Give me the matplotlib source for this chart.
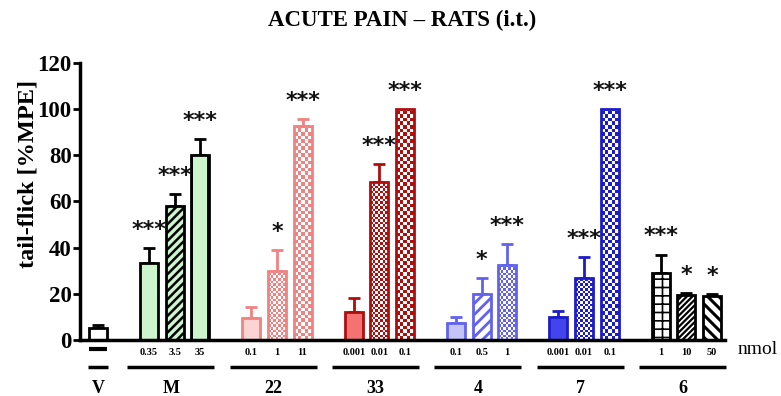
import math
import numpy as np
import matplotlib
matplotlib.use("Agg")
import matplotlib.pyplot as plt
from matplotlib.colors import ListedColormap
from matplotlib.transforms import blended_transform_factory

# data
groups = ["V", "M", "22", "33", "4", "7", "6"]
doses = [["\u2014"], ["0.35", "3.5", "35"], ["0.1", "1", "11"], ["0.001", "0.01", "0.1"],
         ["0.1", "0.5", "1"], ["0.001", "0.01", "0.1"], ["1", "10", "50"]]
means = [[5], [33.5, 58, 80], [9.5, 30, 92.5], [12, 68.5, 100],
         [7.5, 20, 32.5], [10, 27, 100], [29, 19.5, 19]]
sems = [[1.5], [6.5, 5, 7], [5, 9, 3], [6, 7.5, 0],
        [2.5, 7, 9], [2.5, 9, 0], [8, 0.8, 0.8]]
stars = [[""], ["***", "***", "***"], ["", "*", "***"], ["", "***", "***"],
         ["", "*", "***"], ["", "***", "***"], ["***", "*", "*"]]

# styles: (edge, face, hatch, hatch linewidth); "chk<n>" = checkerboard n squares across
styles = [
    [("black", "white", "", 1)],
    [("black", "#ccf5cc", "", 1), ("black", "#ccf5cc", "////", 1.8), ("black", "#ccf5cc", "|", 1.8)],
    [("#f08282", "#fcd4d4", "", 1), ("#f08282", "white", "chk7", 1), ("#f08282", "white", "chk5", 1)],
    [("#b00d0d", "#f47272", "", 1), ("#b00d0d", "white", "chk7", 1), ("#b00d0d", "white", "chk5", 1)],
    [("#6262ee", "#c4c4fa", "", 1), ("#6262ee", "white", "///", 2.0), ("#6262ee", "white", "chk7", 1)],
    [("#1c1cc8", "#4444ee", "", 1), ("#1c1cc8", "white", "chk7", 1), ("#1c1cc8", "white", "chk5", 1)],
    [("black", "white", "++", 1.2), ("black", "white", "//////", 1.6), ("black", "white", "\\\\\\", 2.2)],
]

serif = "Liberation Serif"
XLIM = (-0.7, 24.5)
YLIM = (0, 120)

fig = plt.figure(figsize=(7.81, 3.96), dpi=100)
ax = fig.add_axes([0.1024, 0.1414, 0.8256, 0.7])
ax.set_xlim(*XLIM)
ax.set_ylim(*YLIM)


def checker_fill(ax, rect, color, n_across):
    """Fill a bar with a checkerboard of square cells, clipped to the bar."""
    x0, w, h = rect.get_x(), rect.get_width(), rect.get_height()
    sx = ax.transData.transform((1, 0))[0] - ax.transData.transform((0, 0))[0]
    sy = ax.transData.transform((0, 1))[1] - ax.transData.transform((0, 0))[1]
    cell_px = w * sx / n_across
    cell_h = cell_px / sy
    ny = int(math.ceil(h / cell_h))
    ii, jj = np.indices((ny, n_across))
    board = (ii + jj) % 2
    img = ax.imshow(board, extent=[x0, x0 + w, 0, ny * cell_h], origin="lower",
                    cmap=ListedColormap(["white", color]), interpolation="nearest",
                    aspect="auto", zorder=2.1)
    img.set_clip_path(rect)


trans = blended_transform_factory(ax.transData, ax.transAxes)
xticks, xlabels = [], []
pos = 0
group_spans = []
for g, name in enumerate(groups):
    first = pos
    for i, val in enumerate(means[g]):
        edge, face, hatch, hlw = styles[g][i]
        plt.rcParams["hatch.linewidth"] = hlw
        if hatch.startswith("chk"):
            rect = ax.bar(pos, val, width=0.7, color="white", linewidth=0, zorder=2)[0]
            checker_fill(ax, rect, edge, int(hatch[3:]))
            ax.bar(pos, val, width=0.7, color="none", edgecolor=edge, linewidth=2, zorder=2.2)
        else:
            ax.bar(pos, val, width=0.7, color=face, edgecolor=edge, hatch=hatch,
                   linewidth=2, zorder=2)
        if sems[g][i] > 0:
            ax.errorbar(pos, val, yerr=[[0], [sems[g][i]]], fmt="none", ecolor=edge,
                        elinewidth=2, capsize=4, capthick=2, zorder=1)
        if stars[g][i]:
            ax.annotate(stars[g][i], (pos, val + sems[g][i]), xytext=(0, 13),
                        textcoords="offset points", ha="center", va="center",
                        fontsize=16, fontweight="bold", color="#111111")
        xticks.append(pos)
        if doses[g][i] == "\u2014":
            # vehicle has no dose: drawn as a short dash
            xlabels.append("")
            ax.plot([pos - 0.36, pos + 0.36], [-0.032, -0.032], color="black", lw=3,
                    transform=trans, clip_on=False, solid_capstyle="butt")
        else:
            xlabels.append(doses[g][i])
        pos += 1
    group_spans.append((first, pos - 1))
    pos += 1

ax.set_xlim(*XLIM)
ax.set_ylim(*YLIM)
ax.set_yticks(range(0, 121, 20))
ax.set_yticklabels([str(v) for v in range(0, 121, 20)], fontfamily=serif,
                   fontweight="bold", fontsize=16.5)
ax.set_xticks(xticks)
ax.set_xticklabels(xlabels, fontfamily=serif, fontweight="bold", fontsize=7.5)
ax.tick_params(axis="x", length=0, pad=6)
ax.tick_params(axis="y", length=5, width=2, pad=1)

for side in ["top", "right"]:
    ax.spines[side].set_visible(False)
for side in ["left", "bottom"]:
    ax.spines[side].set_linewidth(2.5)

fig.text(28 / 781, 1 - 174 / 396, "tail-flick [%MPE]", rotation=90, fontfamily=serif,
         fontweight="bold", fontsize=17.5, ha="center", va="center")

for (a, b), name in zip(group_spans, groups):
    if a == b:
        x0, x1 = a - 0.4, b + 0.4
    else:
        x0, x1 = a - 0.85, b + 0.55
    ax.plot([x0, x1], [-0.0975, -0.0975], color="black", lw=2.5, transform=trans,
            clip_on=False, solid_capstyle="butt")
    ax.text((x0 + x1) / 2, -0.175, name, transform=trans, ha="center", va="center",
            fontfamily=serif, fontweight="bold", fontsize=13)

fig.text(738 / 781, 1 - 350 / 396, "nmol", fontfamily=serif, fontsize=14,
         ha="left", va="center")
fig.text(402 / 781, 1 - 20 / 396, "ACUTE PAIN \u2013 RATS (i.t.)", fontfamily=serif,
         fontweight="bold", fontsize=16.5, ha="center", va="center")

fig.savefig("out.png", dpi=100)
